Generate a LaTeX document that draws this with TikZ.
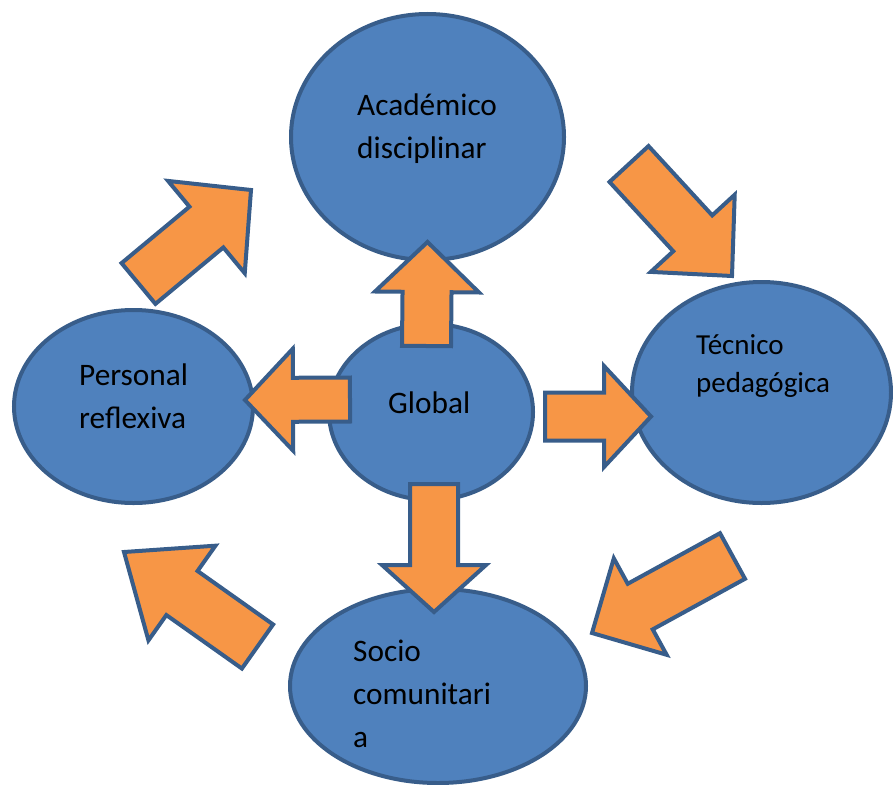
\documentclass[tikz,border=0pt]{standalone}
\usepackage{fontspec}
\setmainfont{Carlito}
\usetikzlibrary{shapes.geometric,calc}
\definecolor{bubblefill}{HTML}{4F81BD}
\definecolor{bubbleline}{HTML}{385D8A}
\definecolor{arrowfill}{HTML}{F79646}
% block arrow: name, tail, tip, shaft half width, head half width, head length
\newcommand{\bigarrow}[6]{%
	\coordinate (#1-s) at #2;
	\coordinate (#1-t) at #3;
	\coordinate (#1-h) at ($(#1-t)!#6!(#1-s)$);
	\draw[blockarrow] ($(#1-s)!#4!90:(#1-t)$) -- ($(#1-h)!#4!-90:(#1-s)$)
	-- ($(#1-h)!#5!-90:(#1-s)$) -- (#1-t) -- ($(#1-h)!#5!90:(#1-s)$)
	-- ($(#1-h)!#4!90:(#1-s)$) -- ($(#1-s)!#4!-90:(#1-t)$) -- cycle;
}
\begin{document}
\begin{tikzpicture}[x=1pt, y=-1pt]
	\tikzstyle{bubble} = [ellipse, draw=bubbleline, fill=bubblefill, line width=4pt, inner sep=0pt]
	\tikzstyle{blockarrow} = [draw=bubbleline, fill=arrowfill, line width=4pt]
	\tikzstyle{txt} = [anchor=base west, align=left, inner sep=0pt, font=\fontsize{31.3}{43}\selectfont]
	\useasboundingbox (0,0) rectangle (893,784);
	\node[bubble, minimum width=273pt, minimum height=246pt](acad)at (427.5,137){};
	\node[bubble, minimum width=204pt, minimum height=176pt](glob)at (431,412){};
	\node[bubble, minimum width=239pt, minimum height=193pt](pers)at (133.5,406.5){};
	\node[bubble, minimum width=259pt, minimum height=221pt](tecn)at (761.5,392.5){};
	\node[bubble, minimum width=296pt, minimum height=194pt](socio)at (438,686){};
	% arrows out of the centre
	\bigarrow{up}{(426.5,346)}{(427.5,242)}{24.5pt}{52pt}{50pt}
	\bigarrow{left}{(350,399.5)}{(245,400)}{22pt}{51pt}{48pt}
	\bigarrow{right}{(545,416.5)}{(651,416.5)}{24pt}{50.5pt}{47pt}
	\bigarrow{down}{(434,484)}{(434,612)}{24pt}{52pt}{47pt}
	% arrows round the ring
	\bigarrow{nw}{(138.5,283.5)}{(251,190)}{26.5pt}{60pt}{58pt}
	\bigarrow{ne}{(629,164)}{(732,276)}{26.5pt}{57pt}{58pt}
	\bigarrow{se}{(732.5,556)}{(592,633)}{26pt}{55pt}{55pt}
	\bigarrow{sw}{(257.5,646.5)}{(124,552)}{27pt}{58pt}{71pt}
	% texts (anchored at the last line)
	\node[txt](acad-txt)at (357,158){Académico\\disciplinar};
	\node[txt](glob-txt)at (388,413){Global};
	\node[txt](pers-txt)at (79,428){Personal\\reflexiva};
	\node[txt, font=\fontsize{29}{37.5}\selectfont](tecn-txt)at (696,392){Técnico\\pedagógica};
	\node[txt](socio-txt)at (353,747){Socio\\comunitari\\a};
\end{tikzpicture}
\end{document}
